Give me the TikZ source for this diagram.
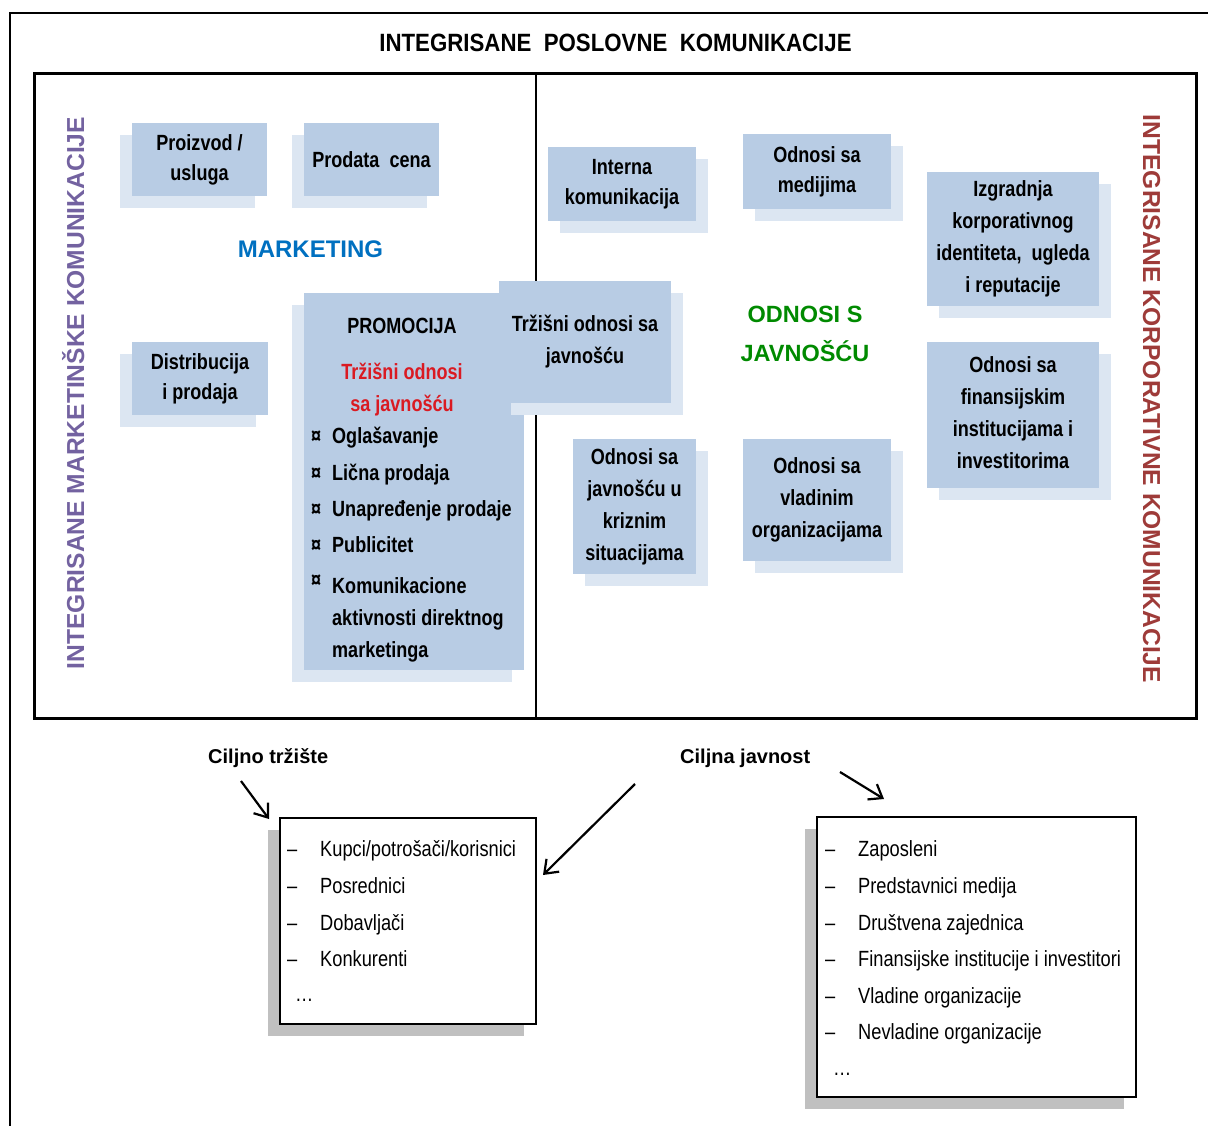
\documentclass[tikz,border=0pt]{standalone}
\usepackage{fontspec}
\setmainfont{Liberation Sans}
\newfontfamily\nb[FakeStretch=0.82]{Liberation Sans}
\newfontfamily\nl[FakeStretch=0.83]{Liberation Sans}
\newfontfamily\tf[FakeStretch=0.89]{Liberation Sans}
\usetikzlibrary{shadows,arrows.meta}
\definecolor{boxc}{HTML}{B8CCE4}
\definecolor{shc}{HTML}{DCE6F2}
\definecolor{lpurple}{HTML}{7362A0}
\definecolor{dred}{HTML}{9E3B39}
\definecolor{mblue}{HTML}{0070C0}
\definecolor{ogreen}{HTML}{008A00}
\definecolor{tred}{HTML}{DA1A22}
\definecolor{gshadow}{HTML}{C0C0C0}
\tikzset{
  bx/.style={fill=boxc, inner sep=0pt, outer sep=0pt, align=center,
    font=\nb\bfseries\fontsize{22}{32}\selectfont,
    execute at begin node={\rule{0pt}{20pt}},
    execute at end node={\rule[-4pt]{0pt}{4pt}}},
  tight/.style={font=\nb\bfseries\fontsize{22}{30}\selectfont},
  shL/.style={general shadow={fill=shc, shadow xshift=-12pt, shadow yshift=-12pt}},
  shR/.style={general shadow={fill=shc, shadow xshift=12pt, shadow yshift=-12pt}},
  pt/.style={inner sep=0pt, anchor=base west, font=\nb\bfseries\fontsize{22}{32}\selectfont},
  bul/.style={inner sep=0pt, anchor=base west, font=\nb\bfseries\fontsize{22}{24}\selectfont},
  listbox/.style={draw=black, line width=1.4pt, fill=white, inner sep=0pt,
    general shadow={fill=gshadow, shadow xshift=-12pt, shadow yshift=-12pt}},
  li/.style={inner sep=0pt, anchor=base west, font=\nl\fontsize{22}{26}\selectfont},
  lab/.style={inner sep=0pt, anchor=base west, font=\bfseries\fontsize{20}{24}\selectfont},
  arr/.style={line width=2.2pt, -{Straight Barb[length=12pt,width=18pt,line width=2.2pt]}},
}
\begin{document}
\begin{tikzpicture}[x=1pt,y=-1pt]
\useasboundingbox (0,0) rectangle (1208,1126);
% outer frame (cut at the right and bottom)
\draw[line width=2pt] (10,1130) -- (10,13) -- (1212,13);
\node[inner sep=0pt, anchor=base, font=\tf\bfseries\fontsize{25}{30}\selectfont] (title) at (615.5,52) {INTEGRISANE\ \ POSLOVNE\ \ KOMUNIKACIJE};
% inner frame and divider
\draw[line width=3pt] (34,73.5) rectangle (1196,718);
\draw[line width=1.5pt] (536,73.5) -- (536,718);
% vertical texts
\node[inner sep=0pt, rotate=90, anchor=base, text=lpurple, font=\bfseries\fontsize{24.6}{28}\selectfont] (lv) at (84,393) {INTEGRISANE MARKETINŠKE KOMUNIKACIJE};
\node[inner sep=0pt, rotate=-90, anchor=base, text=dred, font=\bfseries\fontsize{24.6}{28}\selectfont] (rv) at (1143,399) {INTEGRISANE KORPORATIVNE KOMUNIKACIJE};
% marketing side
\node[bx, tight, shL, minimum width=135pt, minimum height=73pt] (prod) at (199.5,159.5) {Proizvod /\\usluga};
\node[bx, shL, minimum width=135pt, minimum height=73pt] (cena) at (371.5,159.5) {Prodata\ \ cena};
\node[bx, tight, shL, minimum width=136pt, minimum height=73pt] (dist) at (200,378.5) {Distribucija\\i prodaja};
\node[inner sep=0pt, anchor=base, text=mblue, font=\bfseries\fontsize{24}{28}\selectfont] (mkt) at (310.5,258) {MARKETING};
% promocija
\node[fill=boxc, inner sep=0pt, outer sep=0pt, shL, minimum width=220pt, minimum height=377pt] (promo) at (414,481.5) {};
\node[inner sep=0pt, anchor=base, font=\nb\bfseries\fontsize{22}{32}\selectfont] (promot) at (402,333) {PROMOCIJA};
\node[inner sep=0pt, anchor=base, text=tred, font=\nb\bfseries\fontsize{22}{32}\selectfont] (red1) at (402,379) {Tržišni odnosi};
\node[inner sep=0pt, anchor=base, text=tred, font=\nb\bfseries\fontsize{22}{32}\selectfont] (red2) at (402,411) {sa javnošću};
\node[bul] (b1) at (311,443) {¤};
\node[pt] (p1) at (332,443) {Oglašavanje};
\node[bul] (b2) at (311,480) {¤};
\node[pt] (p2) at (332,480) {Lična prodaja};
\node[bul] (b3) at (311,516) {¤};
\node[pt] (p3) at (332,516) {Unapređenje prodaje};
\node[bul] (b4) at (311,552) {¤};
\node[pt] (p4) at (332,552) {Publicitet};
\node[bul] (b5) at (311,587) {¤};
\node[pt] (p5) at (332,593) {Komunikacione};
\node[pt] (p6) at (332,625) {aktivnosti direktnog};
\node[pt] (p7) at (332,657) {marketinga};
% trzisni odnosi
\node[bx, shR, minimum width=172pt, minimum height=122pt] (trz) at (585,342) {Tržišni odnosi sa\\javnošću};
% odnosi s javnoscu side
\node[bx, tight, shR, minimum width=148pt, minimum height=74pt] (interna) at (622,184) {Interna\\komunikacija};
\node[bx, tight, shR, minimum width=148pt, minimum height=75pt] (medij) at (817,171.5) {Odnosi sa\\medijima};
\node[bx, shR, minimum width=172pt, minimum height=134pt] (izgr) at (1013,239) {Izgradnja\\korporativnog\\identiteta,\ \ ugleda\\i reputacije};
\node[bx, shR, minimum width=172pt, minimum height=146pt] (finan) at (1013,415) {Odnosi sa\\finansijskim\\institucijama i\\investitorima};
\node[bx, shR, minimum width=123pt, minimum height=135pt] (kriz) at (634.5,506.5) {Odnosi sa\\javnošću u\\kriznim\\situacijama};
\node[bx, shR, minimum width=148pt, minimum height=122pt] (vlad) at (817,500) {Odnosi sa\\vladinim\\organizacijama};
\node[inner sep=0pt, anchor=base, text=ogreen, font=\bfseries\fontsize{23.5}{28}\selectfont] (pr1) at (805,323) {ODNOSI S};
\node[inner sep=0pt, anchor=base, text=ogreen, font=\bfseries\fontsize{23.5}{28}\selectfont] (pr2) at (805,361) {JAVNOŠĆU};
% bottom labels
\node[lab] (ct) at (208,763) {Ciljno tržište};
\node[lab] (cj) at (680,763) {Ciljna javnost};
% left list
\node[listbox, minimum width=256pt, minimum height=206pt] (lbox) at (408,921) {};
\node[li] (l1) at (287,856) {\makebox[33pt][l]{–}Kupci/potrošači/korisnici};
\node[li] (l2) at (287,893) {\makebox[33pt][l]{–}Posrednici};
\node[li] (l3) at (287,930) {\makebox[33pt][l]{–}Dobavljači};
\node[li] (l4) at (287,966) {\makebox[33pt][l]{–}Konkurenti};
\node[li] (l5) at (295,1001) {…};
% right list
\node[listbox, minimum width=319pt, minimum height=280pt] (rbox) at (976.5,957) {};
\node[li] (r1) at (825,856) {\makebox[33pt][l]{–}Zaposleni};
\node[li] (r2) at (825,893) {\makebox[33pt][l]{–}Predstavnici medija};
\node[li] (r3) at (825,930) {\makebox[33pt][l]{–}Društvena zajednica};
\node[li] (r4) at (825,966) {\makebox[33pt][l]{–}Finansijske institucije i investitori};
\node[li] (r5) at (825,1003) {\makebox[33pt][l]{–}Vladine organizacije};
\node[li] (r6) at (825,1039) {\makebox[33pt][l]{–}Nevladine organizacije};
\node[li] (r7) at (833,1075) {…};
% arrows
\coordinate (a1s) at (241,781);
\coordinate (a1e) at (269,819);
\coordinate (a2s) at (635,784);
\coordinate (a2e) at (543,875);
\coordinate (a3s) at (840,772);
\coordinate (a3e) at (884,799);
\draw[arr] (a1s) -- (a1e);
\draw[arr] (a2s) -- (a2e);
\draw[arr] (a3s) -- (a3e);
\end{tikzpicture}
\end{document}
